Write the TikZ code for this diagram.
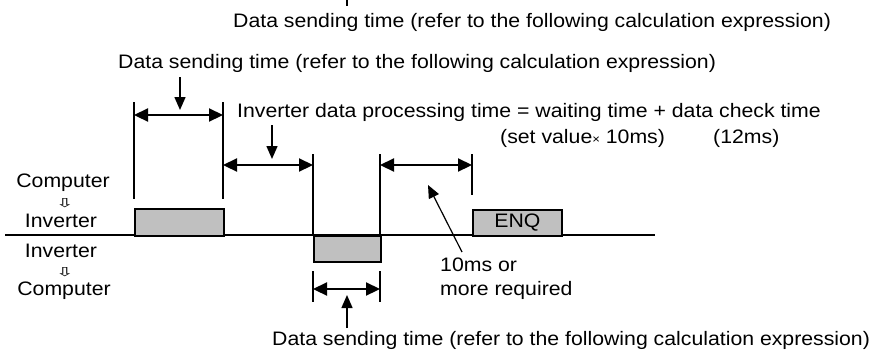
\documentclass[tikz,border=0pt]{standalone}
\usepackage{fontspec}
\setmainfont{Liberation Sans}[FakeStretch=1.09]
\newfontfamily\symfont{DejaVu Sans}
\usepackage{xcolor}
\usetikzlibrary{arrows.meta}
\definecolor{frameGray}{RGB}{192,192,192}

\tikzset{
  guide/.style={line width=2pt},
  dim/.style={{Triangle[length=14pt,width=13pt]}-{Triangle[length=14pt,width=13pt]}, line width=2.2pt},
  pointer/.style={-{Triangle[length=13pt,width=11pt]}, line width=1.4pt},
  packet/.style={draw, fill=frameGray, line width=2pt, inner sep=0pt, anchor=north west},
  note/.style={anchor=base west, inner sep=0pt},
  dirmark/.style={font=\symfont\fontsize{13}{13}\selectfont, inner sep=0pt, text height=7pt, text depth=0pt},
}
\newcommand{\downmark}{\scalebox{1.7}[0.95]{⇩}}

\begin{document}
\begin{tikzpicture}[x=1pt, y=-1pt, font=\fontsize{19.5}{24}\selectfont]
  \useasboundingbox (0,0) rectangle (873,349);

  % texts above the time chart
  \draw[guide] (347,0) -- (347,6);
  \node[note] (topnote) at (233,27) {Data sending time (refer to the following calculation expression)};
  \node[note] (sendnote) at (118,68) {Data sending time (refer to the following calculation expression)};
  \node[note] (procnote) at (237,117) {Inverter data processing time = waiting time + data check time};
  \node[note] (setnote) at (500,143) {(set value{\fontsize{12}{12}\selectfont ×} 10ms)};
  \node[note] (chknote) at (713,143) {(12ms)};

  % direction labels
  \node[anchor=base, inner sep=0pt] (compA) at (63,187) {Computer};
  \node[dirmark] (dirA) at (65,204) {\downmark};
  \node[anchor=base, inner sep=0pt] (invA) at (61,227) {Inverter};
  \node[anchor=base, inner sep=0pt] (invB) at (61,257) {Inverter};
  \node[dirmark] (dirB) at (65,273) {\downmark};
  \node[anchor=base, inner sep=0pt] (compB) at (64,295) {Computer};

  % signal line and frames
  \coordinate (lineL) at (5,235);
  \coordinate (lineR) at (655,235);
  \draw[guide] (lineL) -- (lineR);
  \node[packet, minimum width=89pt, minimum height=27pt] (req) at (134,208) {};
  \node[packet, minimum width=67pt, minimum height=26pt] (resp) at (313,235) {};
  \node[packet, minimum width=89pt, minimum height=26pt] (enq) at (472,209) {ENQ};

  % time marks
  \coordinate (m1a) at (134,102); \coordinate (m1b) at (134,199);
  \coordinate (m2a) at (223,102); \coordinate (m2b) at (223,199);
  \coordinate (m3a) at (313,154); \coordinate (m3b) at (313,235);
  \coordinate (m4a) at (380,154); \coordinate (m4b) at (380,235);
  \coordinate (m5a) at (472,154); \coordinate (m5b) at (472,195);
  \coordinate (m6a) at (313,271); \coordinate (m6b) at (313,302);
  \coordinate (m7a) at (380,271); \coordinate (m7b) at (380,302);
  \foreach \m in {1,...,7}
    \draw[guide] (m\m a) -- (m\m b);

  % intervals
  \coordinate (sendL) at (134,115); \coordinate (sendR) at (223,115);
  \coordinate (procL) at (223,165); \coordinate (procR) at (313,165);
  \coordinate (gapL) at (380,165);  \coordinate (gapR) at (472,165);
  \coordinate (backL) at (313,289); \coordinate (backR) at (380,289);
  \draw[dim] (sendL) -- (sendR);
  \draw[dim] (procL) -- (procR);
  \draw[dim] (gapL) -- (gapR);
  \draw[dim] (backL) -- (backR);

  % pointers
  \coordinate (p1) at (180,77);  \coordinate (p1t) at (180,110);
  \coordinate (p2) at (272,125); \coordinate (p2t) at (272,159);
  \coordinate (p3) at (462,252); \coordinate (p3t) at (428,185);
  \coordinate (p4) at (347,328); \coordinate (p4t) at (347,295);
  \draw[pointer] (p1) -- (p1t);
  \draw[pointer] (p2) -- (p2t);
  \draw[pointer, line width=1.2pt] (p3) -- (p3t);
  \draw[pointer] (p4) -- (p4t);

  \node[note, align=left] (gapnote) at (440,295) {10ms or\\more required};
  \node[note] (backnote) at (272,345) {Data sending time (refer to the following calculation expression)};
\end{tikzpicture}
\end{document}
